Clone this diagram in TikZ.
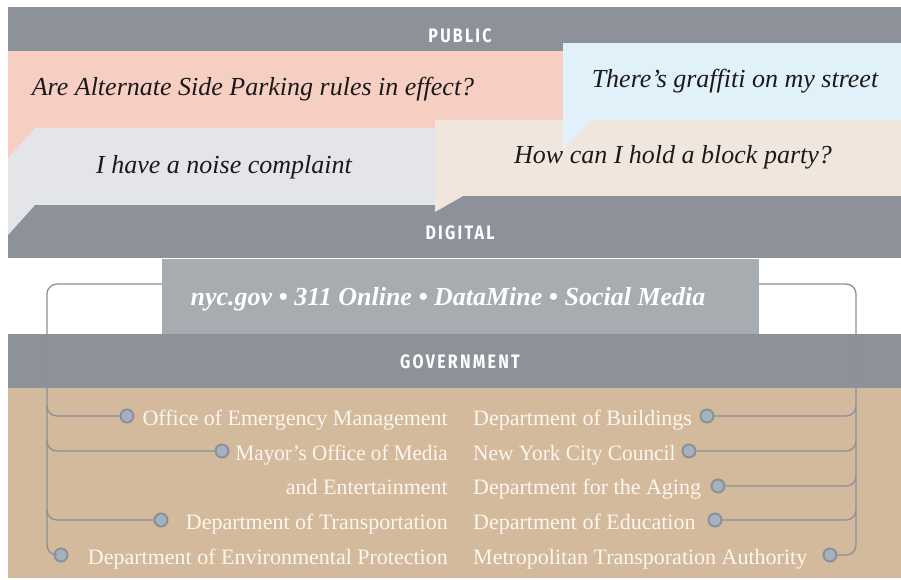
\documentclass[tikz,border=0pt]{standalone}
\usepackage{fontspec}
\setmainfont{Liberation Serif}
\newfontfamily\lblfont{Fira Sans}[LetterSpace=14]
\definecolor{band}{HTML}{8D9199}
\definecolor{pinkb}{HTML}{F7CFC2}
\definecolor{greyb}{HTML}{E4E5E9}
\definecolor{blueb}{HTML}{E1F1FA}
\definecolor{beigeb}{HTML}{F0E6DD}
\definecolor{nycbox}{HTML}{A7ACB0}
\definecolor{tan}{HTML}{D4BA9C}
\definecolor{conncol}{HTML}{8A9098}
\definecolor{dotfill}{HTML}{A4B1BF}
\definecolor{govtext}{HTML}{FBF6EE}
\definecolor{qtext}{HTML}{1A1A1A}
\tikzset{
  bandlabel/.style={text=white, font=\lblfont\bfseries\fontsize{19.5}{22}\selectfont, inner sep=0pt, anchor=base},
  question/.style={text=qtext, font=\itshape\fontsize{26}{30}\selectfont, inner sep=0pt, anchor=base},
  govl/.style={text=govtext, font=\fontsize{22}{26}\selectfont, inner sep=0pt, anchor=base east},
  govr/.style={text=govtext, font=\fontsize{22}{26}\selectfont, inner sep=0pt, anchor=base west},
  dotnode/.style={circle, draw=conncol, line width=2pt, fill=dotfill, minimum size=13pt, inner sep=0pt},
  conn/.style={draw=conncol, line width=1.3pt}
}
\begin{document}
\begin{tikzpicture}[x=1pt,y=-1pt]
\useasboundingbox (0,0) rectangle (901,579);
% bands
\fill[band] (8,7) rectangle (901,51);
\fill[band] (8,196) rectangle (901,258);
\fill[band] (8,334) rectangle (901,388);
\fill[tan] (8,388) rectangle (901,578);
% bubbles
\fill[greyb] (8,128) rectangle (435,205);
\fill[greyb] (8,205) -- (35,205) -- (8,235) -- cycle;
\fill[pinkb] (8,51) rectangle (563,128);
\fill[pinkb] (8,128) -- (35,128) -- (8,158) -- cycle;
\fill[beigeb] (435,120) rectangle (901,196);
\fill[beigeb] (435,196) -- (463,196) -- (435,212) -- cycle;
\fill[blueb] (563,43) rectangle (901,120);
\fill[blueb] (563,120) -- (592,120) -- (563,150) -- cycle;
% band labels
\node[bandlabel] (public) at (460,42) {\scalebox{0.82}[1]{PUBLIC}};
\node[bandlabel] (digital) at (460,239) {\scalebox{0.82}[1]{DIGITAL}};
\node[bandlabel] (government) at (460,368) {\scalebox{0.82}[1]{GOVERNMENT}};
% questions
\node[question] (q1) at (253,95) {Are Alternate Side Parking rules in effect?};
\node[question] (q2) at (735,87) {There’s graffiti on my street};
\node[question] (q3) at (224,173) {I have a noise complaint};
\node[question] (q4) at (673,163) {How can I hold a block party?};
% digital box
\node[fill=nycbox, minimum width=597pt, minimum height=75pt, inner sep=0pt] (nybox) at (460.5,296.5) {};
\node[text=white, font=\bfseries\itshape\fontsize{26}{30}\selectfont, inner sep=0pt, anchor=base] (nytext) at (448,305) {nyc.gov \textbullet{} 311 Online \textbullet{} DataMine \textbullet{} Social Media};
% government list left
\node[govl] (g1) at (448,425) {Office of Emergency Management};
\node[govl] (g2) at (448,460) {\scalebox{0.96}[1]{Mayor’s Office of Media}};
\node[govl] (g2b) at (448,494) {and Entertainment};
\node[govl] (g3) at (448,529) {Department of Transportation};
\node[govl] (g4) at (448,564) {Department of Environmental Protection};
% government list right
\node[govr] (h1) at (473,425) {Department of Buildings};
\node[govr] (h2) at (473,460) {\scalebox{0.97}[1]{New York City Council}};
\node[govr] (h3) at (473,494) {Department for the Aging};
\node[govr] (h4) at (473,529) {Department of Education};
\node[govr] (h5) at (473,564) {Metropolitan Transporation Authority};
% dots
\node[dotnode] (d1) at (127,416) {};
\node[dotnode] (d2) at (222,451) {};
\node[dotnode] (d3) at (161,520) {};
\node[dotnode] (d4) at (61,555) {};
\node[dotnode] (e1) at (707,416) {};
\node[dotnode] (e2) at (689,451) {};
\node[dotnode] (e3) at (718,486) {};
\node[dotnode] (e4) at (715,520) {};
\node[dotnode] (e5) at (830,555) {};
% trunk coordinates
\coordinate (ls) at (162,284);
\coordinate (rs) at (759,284);
\coordinate (la1) at (47,406);
\coordinate (la2) at (47,441);
\coordinate (la3) at (47,510);
\coordinate (ra1) at (856,406);
\coordinate (ra2) at (856,441);
\coordinate (ra3) at (856,476);
\coordinate (ra4) at (856,510);
% left connectors
\draw[conn] (ls) -- (57,284) to[out=180,in=90] (47,294) -- (47,545) to[out=-90,in=180] (57,555) -- (d4);
\draw[conn] (la1) to[out=-90,in=180] ++(10,10) -- (d1);
\draw[conn] (la2) to[out=-90,in=180] ++(10,10) -- (d2);
\draw[conn] (la3) to[out=-90,in=180] ++(10,10) -- (d3);
% right connectors
\draw[conn] (rs) -- (846,284) to[out=0,in=90] (856,294) -- (856,545) to[out=-90,in=0] (846,555) -- (e5);
\draw[conn] (ra1) to[out=-90,in=0] ++(-10,10) -- (e1);
\draw[conn] (ra2) to[out=-90,in=0] ++(-10,10) -- (e2);
\draw[conn] (ra3) to[out=-90,in=0] ++(-10,10) -- (e3);
\draw[conn] (ra4) to[out=-90,in=0] ++(-10,10) -- (e4);
\end{tikzpicture}
\end{document}
